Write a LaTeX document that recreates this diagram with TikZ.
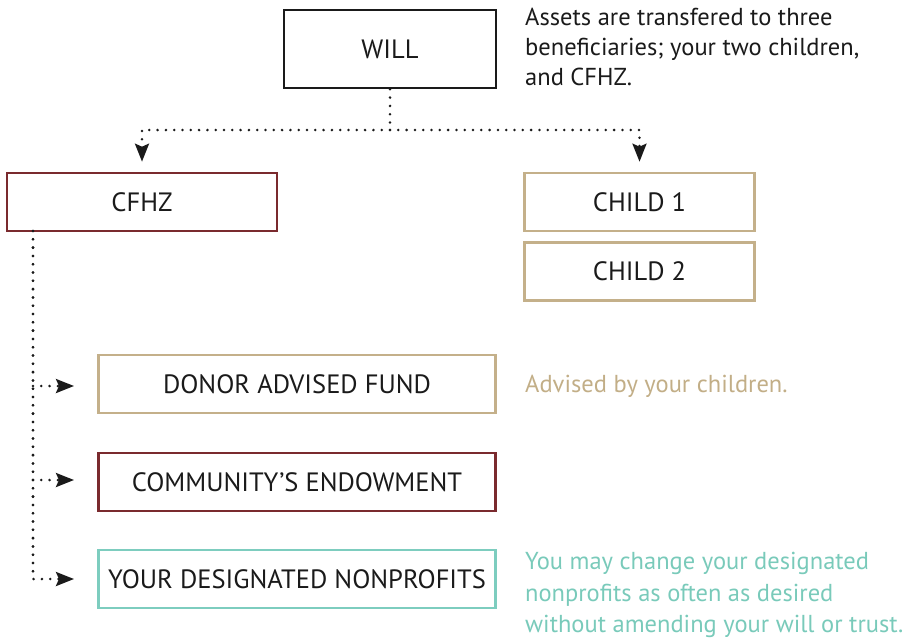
\documentclass[tikz,border=0pt]{standalone}
\usepackage{fontspec}
\setmainfont{PT Sans}
\usetikzlibrary{arrows.meta}
\definecolor{wine}{HTML}{7A2A2E}
\definecolor{tan}{HTML}{C4B08A}
\definecolor{teal}{HTML}{7DCDBF}
\definecolor{tantext}{HTML}{C2AE87}
\definecolor{tealtext}{HTML}{79CABA}
\definecolor{ink}{HTML}{1A1A1A}
\tikzset{
  box/.style={draw, line width=2.6pt, minimum height=58pt, inner sep=0pt, text=ink, font=\fontsize{26.5}{30}\selectfont},
  dotline/.style={line width=2.8pt, dash pattern=on 0pt off 8.3pt, line cap=round, ink},
  dotarrow/.style={dotline, -{Stealth[length=18pt,width=14pt,inset=3pt,line cap=butt]}},
  note/.style={anchor=north west, align=left, inner sep=0pt, font=\fontsize{24.5}{30}\selectfont},
}
\begin{document}
\begin{tikzpicture}[x=1pt,y=-1pt]
\useasboundingbox (0,0) rectangle (923,638);
\node[box, draw=ink, minimum width=212pt, minimum height=78pt] (will) at (390,49) {WILL};
\node[box, draw=wine, minimum width=270pt] (cfhz) at (142,202) {CFHZ};
\node[box, draw=tan, minimum width=230pt] (child1) at (639.5,202) {CHILD 1};
\node[box, draw=tan, minimum width=230pt] (child2) at (639.5,271.5) {CHILD 2};
\node[box, draw=tan, minimum width=397pt] (daf) at (297,384) {DONOR ADVISED FUND};
\node[box, draw=wine, minimum width=397pt] (ce) at (297,482) {COMMUNITY’S ENDOWMENT};
\node[box, draw=teal, minimum width=397pt] (ydn) at (297,579) {YOUR DESIGNATED NONPROFITS};

\node[note, text=ink] (n1) at (525,8) {Assets are transfered to three\\beneficiaries; your two children,\\and CFHZ.};
\node[note, text=tantext, anchor=west] (n2) at (525,386) {Advised by your children.};
\node[note, text=tealtext, font=\fontsize{24.5}{31.5}\selectfont] (n3) at (525,552) {You may change your designated\\nonprofits as often as desired\\without amending your will or trust.};

\coordinate (j) at (390,130);
\draw[dotline] (will.south) -- (j);
\draw[dotarrow, shorten >=10pt] (j) -| (cfhz.north);
\draw[dotarrow, shorten >=10pt] (j) -| (child1.north);

\coordinate (v0) at (33,231);
\coordinate (t1) at (74,386);
\coordinate (t2) at (74,480);
\coordinate (t3) at (74,579);
\draw[dotline] (v0) -- (t3 -| v0);
\draw[dotarrow] (t1 -| v0) -- (t1);
\draw[dotarrow] (t2 -| v0) -- (t2);
\draw[dotarrow] (v0) |- (t3);
\end{tikzpicture}
\end{document}
